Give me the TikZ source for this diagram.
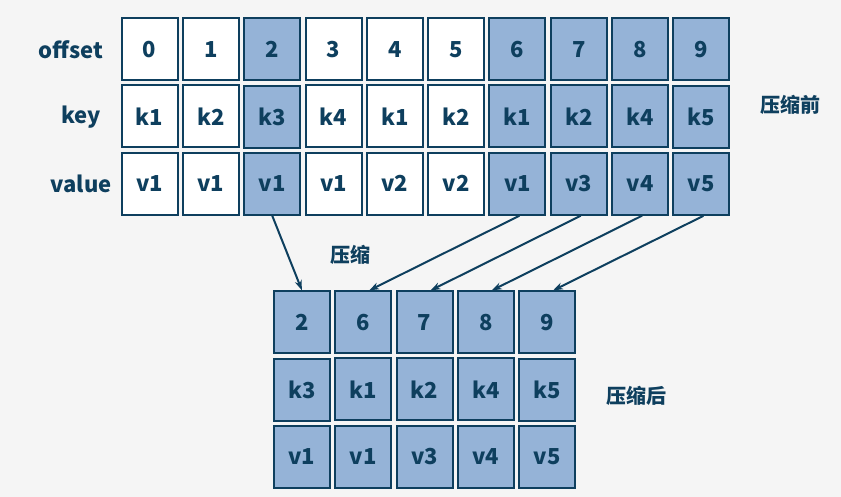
\documentclass[tikz,border=0pt]{standalone}
\usepackage{fontspec}
\setmainfont{Noto Sans CJK SC}
\usetikzlibrary{matrix, positioning, arrows.meta}
\definecolor{navy}{HTML}{0E3F5E}
\definecolor{cellblue}{HTML}{95B3D7}
\definecolor{bggray}{HTML}{F5F5F5}

\begin{document}
\begin{tikzpicture}[x=1pt, y=-1pt, font=\bfseries\fontsize{22}{26}\selectfont, text=navy,
        cell/.style={draw=navy, line width=2pt, fill=white, minimum width=56pt, minimum height=62pt, inner sep=0pt},
        hot/.style={fill=cellblue},
        hanzi/.style={font=\bfseries\fontsize{20}{24}\selectfont},
        flow/.style={-{Stealth[length=10pt, width=7pt]}, draw=navy, line width=2pt}]
        \fill[bggray] (0,0) rectangle (841,497);
        \useasboundingbox (0,0) rectangle (841,497);
        \matrix (top) [matrix of nodes, nodes={cell}, column sep=3.3pt, row sep=3pt,
            column 3/.style={nodes={hot}}, column 7/.style={nodes={hot}}, column 8/.style={nodes={hot}},
            column 9/.style={nodes={hot}}, column 10/.style={nodes={hot}}] at (425.5,116.5)
        {0 & 1 & 2 & 3 & 4 & 5 & 6 & 7 & 8 & 9 \\
         k1 & k2 & k3 & k4 & k1 & k2 & k1 & k2 & k4 & k5 \\
         v1 & v1 & v1 & v1 & v2 & v2 & v1 & v3 & v4 & v5 \\};
        \matrix (bot) [matrix of nodes, nodes={cell, hot}, column sep=3.3pt, row sep=3pt] at (424.5,389.5)
        {2 & 6 & 7 & 8 & 9 \\
         k3 & k1 & k2 & k4 & k5 \\
         v1 & v1 & v3 & v4 & v5 \\};
        % row labels
        \node (lblOffset) at (71,49.5) {offset};
        \node (lblKey) at (81,117) {key};
        \node (lblValue) at (81,184) {value};
        \node[hanzi] (before) at (790,105) {压缩前};
        \node[hanzi] (after) at (636,396) {压缩后};
        \node[hanzi] (squash) at (350,255) {压缩};
        % arrows
        \draw[flow] (top-3-3.south) -- (bot-1-1.north);
        \foreach \s/\t in {7/2, 8/3, 9/4, 10/5}
            \draw[flow] ([xshift=2pt]top-3-\s.south) -- ([xshift=6pt]bot-1-\t.north);
\end{tikzpicture}
\end{document}
